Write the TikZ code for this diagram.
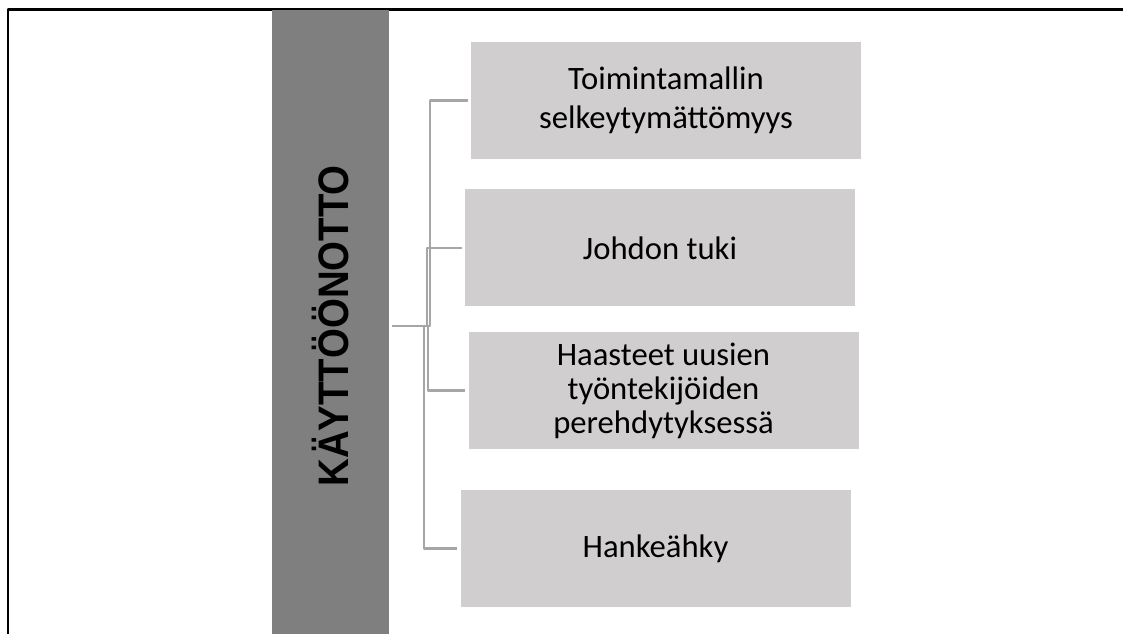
\documentclass[tikz,border=0pt]{standalone}
\usepackage{fontspec}
\setmainfont{Carlito}
\newfontfamily\titlefont{Liberation Sans}
\definecolor{bargray}{HTML}{7F7F7F}
\definecolor{boxgray}{HTML}{D0CECE}
\definecolor{linkgray}{HTML}{A6A6A6}
\begin{document}
\begin{tikzpicture}[x=0.75pt, y=-0.75pt, line join=round,
 item/.style={fill=boxgray, minimum width=292.5pt, minimum height=87.75pt, inner sep=0pt, align=center, font=\fontsize{24.5}{29}\selectfont},
 link/.style={draw=linkgray, line width=1.8pt}]
 \useasboundingbox (0,0) rectangle (1123,634);
 \draw[line width=1.8pt] (8,640)--(8,9.5)--(1130,9.5);
 \node[fill=bargray, rotate=90, minimum width=474pt, minimum height=87.75pt, inner sep=0pt, font=\titlefont\bfseries\fontsize{32}{36}\selectfont] (bar) at (330.5,326) {\scalebox{0.9}[1]{KÄYTTÖÖNOTTO}};
 \node[item] (t1) at (666,100.5) {Toimintamallin\\selkeytymättömyys};
 \node[item] (t2) at (660,248) {Johdon tuki};
 \node[item, font=\fontsize{24.5}{25.5}\selectfont] (t3) at (663.5,390.5) {Haasteet uusien\\työntekijöiden\\perehdytyksessä};
 \node[item] (t4) at (655.5,548.5) {Hankeähky};
 \foreach\n/\d in{t1/38,t2/35,t3/36,t4/32}{\draw[link] ([xshift=2.25pt]bar.south)--++(\d,0)|-([xshift=-2.25pt]\n.west);}
\end{tikzpicture}
\end{document}
